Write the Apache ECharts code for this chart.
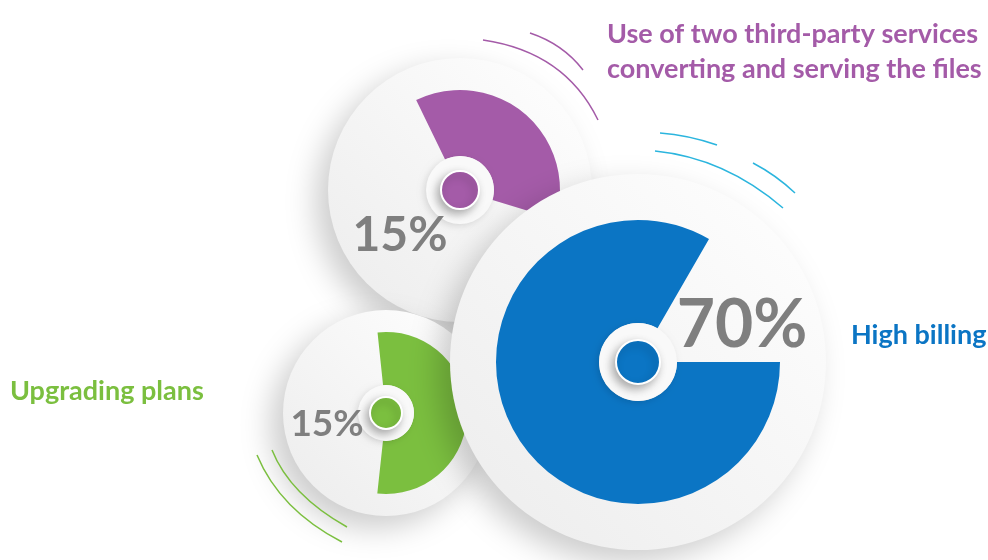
<!DOCTYPE html>
<html>
<head>
<meta charset="utf-8">
<script src="https://cdn.jsdelivr.net/npm/echarts@6/dist/echarts.min.js"></script>
<style>
html,body{margin:0;padding:0;background:#ffffff;}
#chart{width:988px;height:560px;}
</style>
</head>
<body>
<div id="chart"></div>
<script>
// ---- data ----
const categories = ['Use of two third-party services\nconverting and serving the files', 'Upgrading plans', 'High billing'];
const shares = [15, 15, 70];
const colors = ['#A45BA8', '#7BBF3F', '#0B75C4'];

// ---- layout (visual only) ----
const layout = [
  { center: [460, 190], disc: 132, inner: 34, outer: 100, dot: 19, start: 116, angleMax: 40.6, z: 1 },
  { center: [386, 413], disc: 103, inner: 28, outer: 81, dot: 16, start: 96, angleMax: 28.1, z: 10 },
  { center: [638, 362], disc: 188, inner: 39, outer: 142, dot: 22, start: 0, angleMax: 84, z: 20 }
];

const discGrad = {
  type: 'linear', x: 1, y: 0, x2: 0, y2: 1,
  colorStops: [{ offset: 0, color: '#ffffff' }, { offset: 1, color: '#ececec' }]
};

const polar = [], angleAxis = [], radiusAxis = [], series = [];
layout.forEach((L, i) => {
  polar.push({ center: L.center, radius: [L.inner, L.outer] });
  angleAxis.push({ polarIndex: i, type: 'value', min: 0, max: L.angleMax, startAngle: L.start, clockwise: true, show: false });
  radiusAxis.push({ polarIndex: i, type: 'category', data: [categories[i]], show: false });
  // disc
  series.push({
    type: 'pie', silent: true, center: L.center, radius: [0, L.disc], z: L.z, animation: false,
    label: { show: false }, labelLine: { show: false },
    itemStyle: { color: discGrad, shadowColor: 'rgba(0,0,0,0.2)', shadowBlur: 30, shadowOffsetX: -12, shadowOffsetY: 12 },
    data: [{ value: 1, name: 'disc' + i }]
  });
  // share sector
  series.push({
    type: 'bar', coordinateSystem: 'polar', polarIndex: i, z: L.z + 1, barWidth: '100%', animation: false,
    itemStyle: { color: colors[i] }, silent: true,
    data: [shares[i]]
  });
  // white hub
  series.push({
    type: 'pie', silent: true, center: L.center, radius: [0, L.inner], z: L.z + 2, animation: false,
    label: { show: false }, labelLine: { show: false },
    itemStyle: { color: '#f9f9f9', shadowColor: 'rgba(0,0,0,0.12)', shadowBlur: 6, shadowOffsetX: -2, shadowOffsetY: 2 },
    data: [{ value: 1, name: 'hub' + i }]
  });
  // coloured dot
  series.push({
    type: 'pie', silent: true, center: L.center, radius: [0, L.dot], z: L.z + 3, animation: false,
    label: { show: false }, labelLine: { show: false },
    itemStyle: { color: colors[i], borderColor: '#ffffff', borderWidth: 2, shadowColor: 'rgba(0,0,0,0.3)', shadowBlur: 8, shadowOffsetX: -3, shadowOffsetY: 4 },
    data: [{ value: 1, name: 'dot' + i }]
  });
});

const pctFont = 'Lato, "Open Sans", sans-serif';
const pctText = [
  { x: 400, y: 236, size: 48, z: 50 },
  { x: 327, y: 424, size: 37, z: 50 },
  { x: 742, y: 326, size: 66, z: 50 }
];

const graphic = [];
pctText.forEach((p, i) => {
  graphic.push({
    type: 'text', x: p.x, y: p.y, z: p.z,
    style: { text: shares[i] + '%', fill: '#7f7f7f', font: 'bold ' + p.size + 'px ' + pctFont, textAlign: 'center', textVerticalAlign: 'middle' }
  });
});
graphic.push({
  type: 'text', x: 607, y: 52, z: 50,
  style: { text: categories[0], fill: colors[0], font: 'bold 27px ' + pctFont, textAlign: 'left', textVerticalAlign: 'middle', lineHeight: 35 }
});
graphic.push({
  type: 'text', x: 10, y: 391, z: 50,
  style: { text: categories[1], fill: colors[1], font: 'bold 27px ' + pctFont, textAlign: 'left', textVerticalAlign: 'middle' }
});
graphic.push({
  type: 'text', x: 851, y: 335, z: 50,
  style: { text: categories[2], fill: colors[2], font: 'bold 27px ' + pctFont, textAlign: 'left', textVerticalAlign: 'middle' }
});

// decorative motion strokes
const strokes = [
  { c: '#A45BA8', s: [483, 40], cp: [565, 52], e: [598, 120] },
  { c: '#A45BA8', s: [530, 33], cp: [563, 44], e: [583, 70] },
  { c: '#2BB5DE', s: [660, 133], cp: [688, 135], e: [717, 145] },
  { c: '#2BB5DE', s: [655, 151], cp: [725, 158], e: [783, 208] },
  { c: '#2BB5DE', s: [753, 163], cp: [776, 175], e: [795, 193] },
  { c: '#7BBF3F', s: [257, 455], cp: [280, 510], e: [342, 542] },
  { c: '#7BBF3F', s: [272, 450], cp: [290, 495], e: [347, 527] }
];
strokes.forEach(st => {
  graphic.push({
    type: 'bezierCurve', z: 40, silent: true,
    shape: { x1: st.s[0], y1: st.s[1], x2: st.e[0], y2: st.e[1], cpx1: st.cp[0], cpy1: st.cp[1] },
    style: { stroke: st.c, lineWidth: 1.5, fill: null }
  });
});

const chart = echarts.init(document.getElementById('chart'), null, { renderer: 'canvas' });
chart.setOption({
  backgroundColor: '#ffffff',
  animation: false,
  polar, angleAxis, radiusAxis, series, graphic
});
</script>
</body>
</html>
